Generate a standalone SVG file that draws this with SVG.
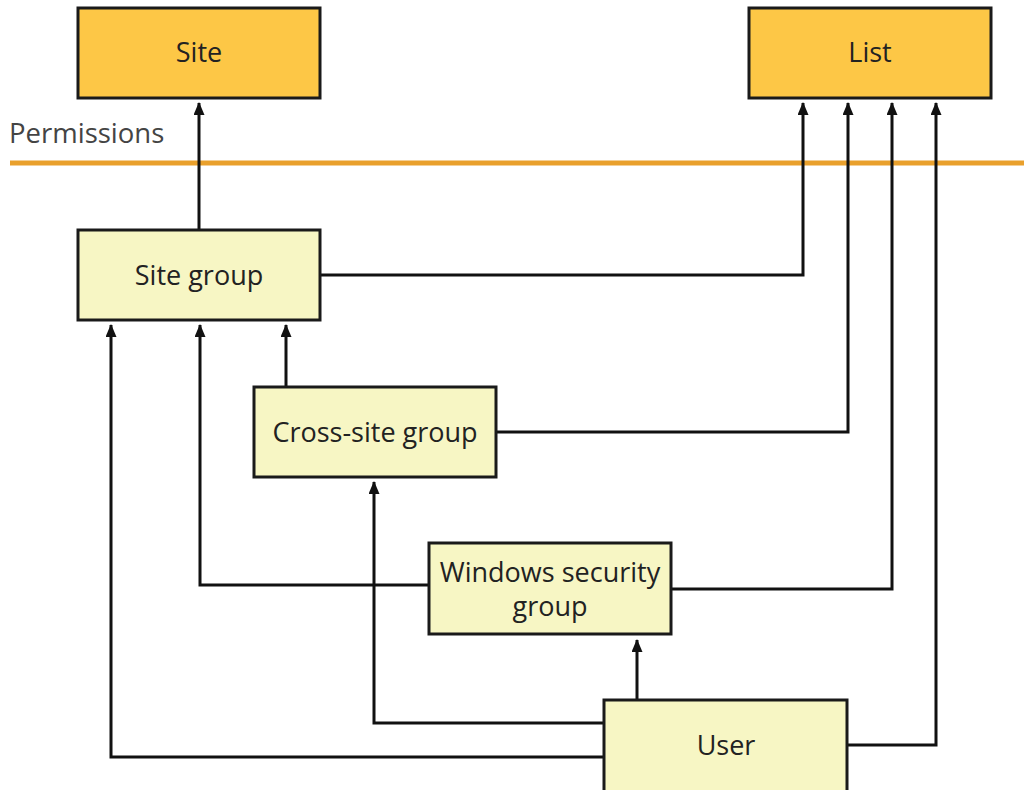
<svg xmlns="http://www.w3.org/2000/svg" width="1024" height="790" viewBox="0 0 1024 790">
  <defs>
    <marker id="arrow" viewBox="0 0 13 11" refX="12" refY="5.5" markerWidth="13" markerHeight="11" markerUnits="userSpaceOnUse" orient="auto">
      <path d="M0,0 L13,5.5 L0,11 Z" fill="#111"/>
    </marker>
    <style>
      .box { stroke: #1a1a1a; stroke-width: 3; }
      .target { fill: #fdc746; }
      .principal { fill: #f7f6c4; }
      .label { font-family: "Open Sans", "Liberation Sans", sans-serif; font-size: 27px; fill: #222; text-anchor: middle; }
      .wire { fill: none; stroke: #111; stroke-width: 3; }
    </style>
  </defs>
  <rect width="1024" height="790" fill="#fff"/>

  <!-- permissions divider -->
  <text x="9" y="143" class="label" style="text-anchor:start; fill:#444; font-size:27.5px">Permissions</text>
  <line x1="10" y1="163" x2="1024" y2="163" stroke="#e9a02c" stroke-width="5"/>

  <!-- connectors -->
  <g id="connectors">
    <path class="wire" d="M199,230 V103" marker-end="url(#arrow)"/>
    <path class="wire" d="M320,275 H803 V103" marker-end="url(#arrow)"/>
    <path class="wire" d="M286,387 V325" marker-end="url(#arrow)"/>
    <path class="wire" d="M496,432 H848 V103" marker-end="url(#arrow)"/>
    <path class="wire" d="M428,585 H200 V325" marker-end="url(#arrow)"/>
    <path class="wire" d="M671,589 H892 V103" marker-end="url(#arrow)"/>
    <path class="wire" d="M637,700 V640" marker-end="url(#arrow)"/>
    <path class="wire" d="M604,723 H374 V482" marker-end="url(#arrow)"/>
    <path class="wire" d="M604,757 H111 V325" marker-end="url(#arrow)"/>
    <path class="wire" d="M848,745 H936 V103" marker-end="url(#arrow)"/>
  </g>

  <g id="site">
    <rect class="box target" x="78" y="8" width="242" height="90"/>
    <text class="label" x="199" y="62">Site</text>
  </g>
  <g id="list">
    <rect class="box target" x="749" y="8" width="242" height="90"/>
    <text class="label" x="870" y="62">List</text>
  </g>
  <g id="site-group">
    <rect class="box principal" x="78" y="230" width="242" height="90"/>
    <text class="label" x="199" y="285">Site group</text>
  </g>
  <g id="cross-site-group">
    <rect class="box principal" x="254" y="387" width="242" height="90"/>
    <text class="label" x="375" y="442">Cross-site group</text>
  </g>
  <g id="windows-security-group">
    <rect class="box principal" x="429" y="543" width="242" height="91"/>
    <text class="label" x="550" y="582">Windows security</text>
    <text class="label" x="550" y="616">group</text>
  </g>
  <g id="user">
    <rect class="box principal" x="604" y="700" width="243" height="94"/>
    <text class="label" x="726" y="755">User</text>
  </g>
</svg>
